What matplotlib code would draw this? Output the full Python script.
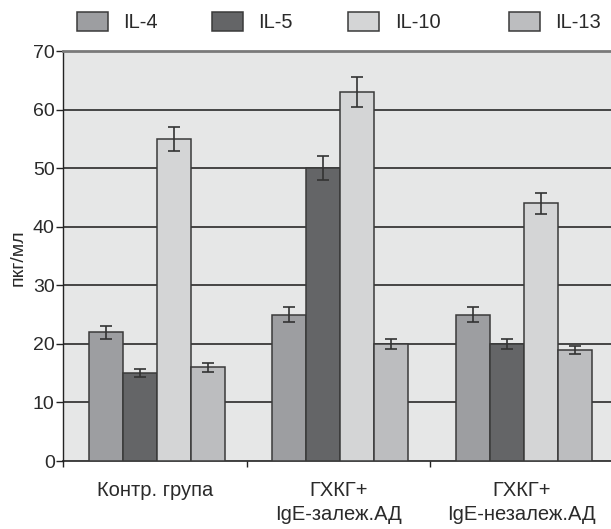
import numpy as np
import matplotlib
matplotlib.use("Agg")
import matplotlib.pyplot as plt
from matplotlib.patches import Rectangle
from matplotlib import font_manager

names = {f.name for f in font_manager.fontManager.ttflist}
fam = 'Liberation Sans Narrow' if 'Liberation Sans Narrow' in names else 'Liberation Sans'
plt.rcParams['font.family'] = [fam, 'DejaVu Sans']

categories = ["Контр. група", "ГХКГ+\nIgE-залеж.АД", "ГХКГ+\nIgE-незалеж.АД"]
series = ["IL-4", "IL-5", "IL-10", "IL-13"]
values = {
    "IL-4": [22, 25, 25],
    "IL-5": [15, 50, 20],
    "IL-10": [55, 63, 44],
    "IL-13": [16, 20, 19],
}
errors = {
    "IL-4": [1.1, 1.3, 1.3],
    "IL-5": [0.65, 2.0, 0.85],
    "IL-10": [2.0, 2.5, 1.8],
    "IL-13": [0.75, 0.8, 0.65],
}
colors = {"IL-4": "#9d9ea1", "IL-5": "#646567", "IL-10": "#d4d5d6", "IL-13": "#bcbdbf"}
yticks = [0, 10, 20, 30, 40, 50, 60, 70]

W, H = 611, 529
fig = plt.figure(figsize=(W / 100, H / 100), dpi=100)
left_px, right_px, top_px, bot_px = 63, 613.5, 51, 461
ax = fig.add_axes([left_px / W, 1 - bot_px / H, (right_px - left_px) / W, (bot_px - top_px) / H])
ax.set_facecolor("#e6e7e7")

x = np.arange(len(categories))
bw = 34 / 183.5
n = len(series)
for i, s in enumerate(series):
    off = (i - (n - 1) / 2) * bw + 0.01
    ax.bar(x + off, values[s], width=bw, color=colors[s], edgecolor="#3a3a3a",
           linewidth=1.1, zorder=3)
    ax.errorbar(x + off, values[s], yerr=errors[s], fmt="none", ecolor="#333333",
                elinewidth=1.2, capsize=4.5, capthick=1.2, zorder=4)

ax.set_xlim(-0.5, 2.5)
ax.set_ylim(0, 70)
for yv in yticks[1:-1]:
    ax.axhline(yv, color="#1a1a1a", lw=1.1, zorder=1)

ax.set_yticks(yticks)
ax.set_yticklabels([str(v) for v in yticks], fontsize=14, color="#2a2a2a")
ax.tick_params(axis="y", direction="out", length=5, width=1, pad=1, color="#222222")
ax.set_xticks([-0.5, 0.5, 1.5, 2.5])
ax.set_xticklabels([])
ax.tick_params(axis="x", direction="out", length=4, width=1, color="#222222")

for i, c in enumerate(categories):
    ax.text(x[i] + 0.0, -3.5, c, ha="center", va="top", fontsize=14.5,
            color="#2a2a2a", linespacing=1.3)

ax.spines["right"].set_visible(False)
ax.spines["top"].set_color("#7a7a7a")
ax.spines["top"].set_linewidth(2)
ax.spines["left"].set_color("#222222")
ax.spines["bottom"].set_color("#222222")
ax.spines["left"].set_linewidth(1)
ax.spines["bottom"].set_linewidth(1.2)

fig.text(18 / W, 1 - 258 / H, "пкг/мл", rotation=90, ha="center", va="center",
         fontsize=14, color="#2a2a2a")

# legend
patch_x = [77, 212, 348, 509]
text_x = [123, 258, 395, 555]
for s, px, tx in zip(series, patch_x, text_x):
    fig.patches.append(Rectangle((px / W, 1 - 31 / H), 31 / W, 19 / H,
                                 transform=fig.transFigure, facecolor=colors[s],
                                 edgecolor="#3a3a3a", linewidth=1.1))
    fig.text(tx / W, 1 - 22 / H, s, ha="left", va="center", fontsize=14.5, color="#2a2a2a")

fig.savefig("out.png", dpi=100)
